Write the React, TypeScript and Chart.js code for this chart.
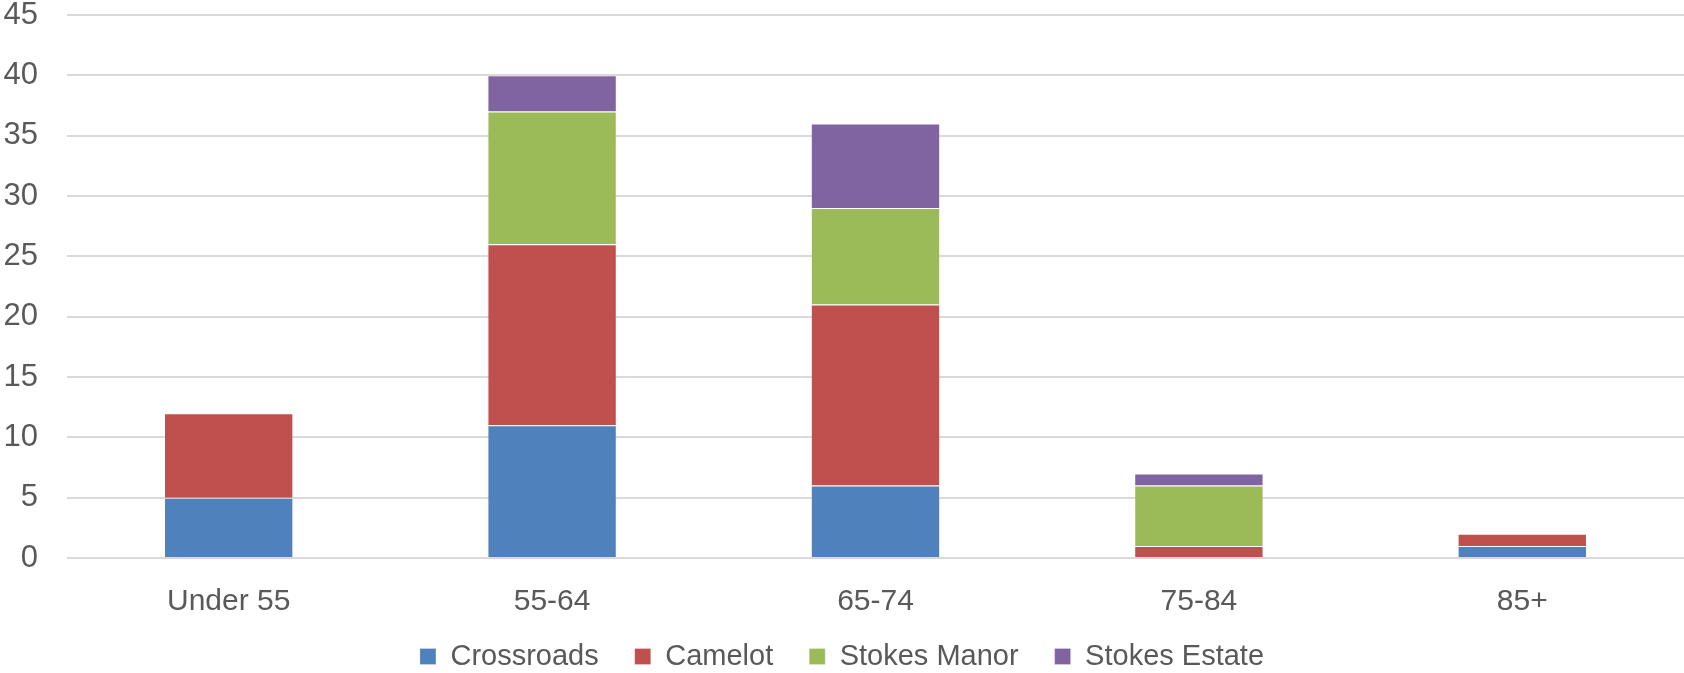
import React, { useEffect, useRef } from "react";
import { Chart, registerables } from "chart.js";

Chart.register(...registerables);

const categories = ["Under 55", "55-64", "65-74", "75-84", "85+"];
const crossroads = [5, 11, 6, 0, 1];
const camelot = [7, 15, 15, 1, 1];
const stokesManor = [0, 11, 8, 5, 0];
const stokesEstate = [0, 3, 7, 1, 0];

const seriesNames = ["Crossroads", "Camelot", "Stokes Manor", "Stokes Estate"];
const seriesColors = ["#4F81BD", "#C0504D", "#9BBB59", "#8064A2"];

const FONT = "'Liberation Sans', Arial, sans-serif";
const TEXT = "#595959";

const legendPlacePlugin = {
  id: "legendPlace",
  beforeLayout(chart: any) {
    const lg = chart.legend;
    if (lg && !lg._patched) {
      const orig = lg.fit;
      lg.fit = function () {
        orig.call(this);
        this.height = 33;
      };
      lg._patched = true;
    }
  },
  afterLayout(chart: any) {
    const lg = chart.legend;
    if (lg) {
      lg.top = chart.height - 67;
      lg.bottom = chart.height;
      lg.height = 67;
    }
  },
};

export default function App() {
  const ref = useRef<HTMLCanvasElement | null>(null);

  useEffect(() => {
    document.body.style.margin = "0";
    const canvas = ref.current;
    if (!canvas) return;
    const values = [crossroads, camelot, stokesManor, stokesEstate];
    const chart = new Chart(canvas, {
      type: "bar",
      data: {
        labels: categories,
        datasets: values.map((v, i) => ({
          label: seriesNames[i],
          data: v,
          backgroundColor: seriesColors[i],
          borderColor: "rgba(255,255,255,0.25)",
          borderWidth: 1,
          barPercentage: 0.4,
          categoryPercentage: 1,
        })),
      },
      plugins: [legendPlacePlugin],
      options: {
        responsive: false,
        animation: false,
        devicePixelRatio: 1,
        layout: { padding: { top: 15, right: 0, left: 0, bottom: 0 } },
        plugins: {
          legend: {
            position: "bottom",
            labels: {
              boxWidth: 16,
              boxHeight: 16,
              padding: 36,
              color: TEXT,
              font: { family: FONT, size: 29, lineHeight: 1 },
            },
          },
          tooltip: { enabled: false },
          title: { display: false },
        },
        scales: {
          x: {
            stacked: true,
            grid: { display: false },
            border: { display: false },
            ticks: {
              color: TEXT,
              padding: 18,
              font: { family: FONT, size: 30 },
              maxRotation: 0,
            },
            afterFit: (scale: any) => {
              scale.height = 82;
            },
          },
          y: {
            stacked: true,
            min: 0,
            max: 45,
            ticks: {
              stepSize: 5,
              color: TEXT,
              padding: 29,
              font: { family: FONT, size: 31, lineHeight: 1 },
            },
            grid: { color: "#D9D9D9", lineWidth: 2, drawTicks: false },
            border: { display: false },
            afterFit: (scale: any) => {
              scale.width = 67;
              scale.paddingTop = 15;
              scale.paddingBottom = 0;
            },
          },
        },
      },
    });
    return () => chart.destroy();
  }, []);

  return (
    <div style={{ position: "fixed", left: 0, top: 0, width: 1684, height: 673, background: "#fff" }}>
      <canvas ref={ref} width={1684} height={673} />
    </div>
  );
}
